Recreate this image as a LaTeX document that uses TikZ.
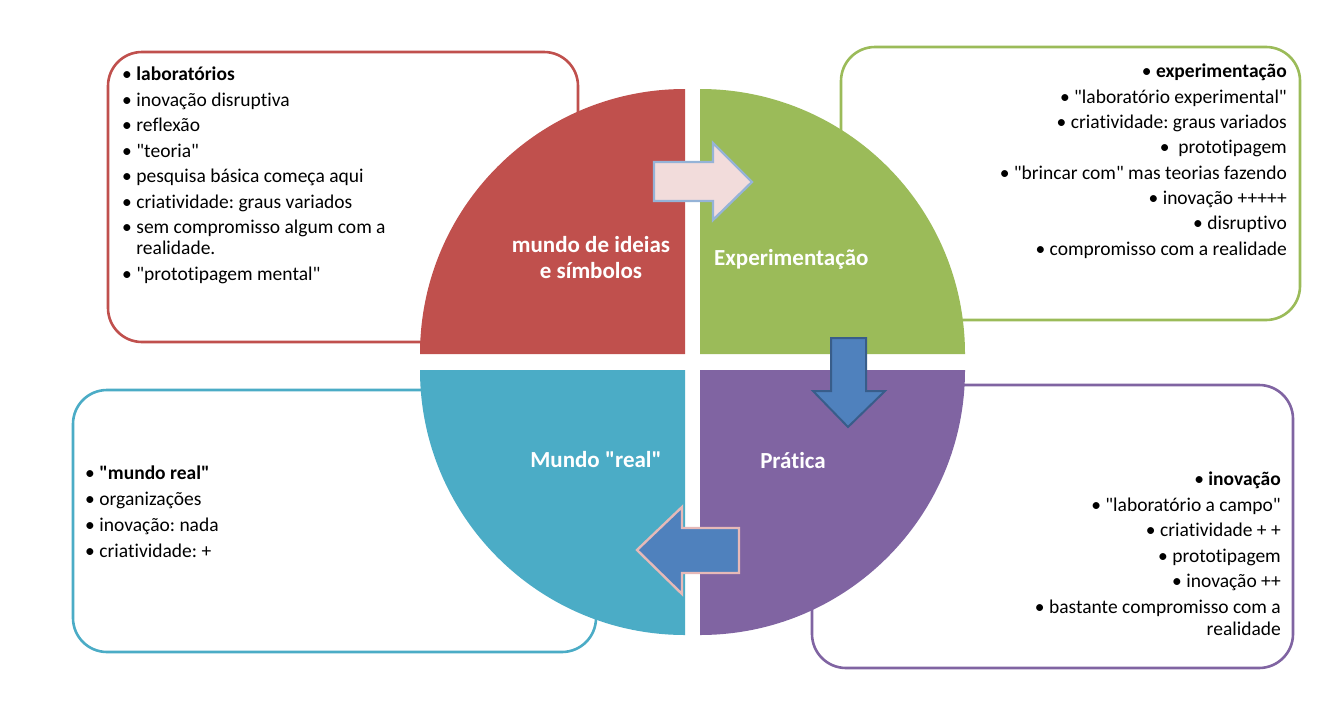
\documentclass[tikz,border=0pt]{standalone}
\usepackage{fontspec}
\setmainfont{Carlito}
\newfontfamily\calfont[Ligatures={NoCommon,NoContextual}]{Carlito}
\definecolor{qred}{HTML}{C0504D}
\definecolor{qgreen}{HTML}{9BBB59}
\definecolor{qblue}{HTML}{4BACC6}
\definecolor{qpurple}{HTML}{8064A2}
\definecolor{arrblue}{HTML}{4F81BD}
\definecolor{arrdark}{HTML}{385D8A}
\definecolor{arrpink}{HTML}{F2DCDB}
\definecolor{pinkline}{HTML}{E6B9B8}
\definecolor{lightblue}{HTML}{95B3D7}
\frenchspacing
\begin{document}
\begin{tikzpicture}[x=1pt,y=1pt,
  infobox/.style={rounded corners=34pt, line width=2.6pt, fill=white},
  txt/.style={inner sep=0pt, font=\calfont\fontsize{19.5}{21}\selectfont, text=black},
  qlabel/.style={inner sep=0pt, font=\calfont\fontsize{23}{26}\selectfont\bfseries, text=white, align=center},
  quad/.style={draw=none}]
\useasboundingbox (0,0) rectangle (1338,-707);
\fill[white] (0,0) rectangle (1338,-707);

% info boxes
\draw[infobox, draw=qred] (108,-52) rectangle (578,-342);
\draw[infobox, draw=qgreen] (841,-47) rectangle (1300,-320);
\draw[infobox, draw=qblue] (73,-390) rectangle (596,-652);
\draw[infobox, draw=qpurple] (812,-385) rectangle (1293,-668);

% quadrants
\fill[qred] (685,-354) -- (420,-354) arc[start angle=180, end angle=90, radius=265pt] -- cycle;
\fill[qgreen] (700,-354) -- (700,-89) arc[start angle=90, end angle=0, radius=265pt] -- cycle;
\fill[qblue] (685,-370) -- (420,-370) arc[start angle=180, end angle=270, radius=265pt] -- cycle;
\fill[qpurple] (700,-370) -- (965,-370) arc[start angle=0, end angle=-90, radius=265pt] -- cycle;

% arrows
\draw[line width=2.4pt, draw=lightblue, fill=arrpink, line join=miter]
  (654,-162) -- (713,-162) -- (713,-143) -- (752,-182) -- (713,-220) -- (713,-201) -- (654,-201) -- cycle;
\draw[line width=2pt, draw=arrdark, fill=arrblue, line join=miter]
  (831,-338) -- (866,-338) -- (866,-391) -- (885,-391) -- (848,-427) -- (813,-391) -- (831,-391) -- cycle;
\draw[line width=2.4pt, draw=pinkline, fill=arrblue, line join=miter]
  (739,-528) -- (682,-528) -- (682,-507) -- (637,-550) -- (682,-594) -- (682,-573) -- (739,-573) -- cycle;

% quadrant labels
\node[qlabel] (lred) at (591,-258) {mundo de ideias\\e símbolos};
\node[qlabel, anchor=west] (lgreen) at (714,-259) {Experimentação};
\node[qlabel] (lblue) at (596,-460) {Mundo "real"};
\node[qlabel] (lpurple) at (793,-461) {Prática};

% box texts
\node[txt, anchor=north west] (tred) at (122,-66) {%
\begin{tabular}{@{}l@{\hspace{4.5pt}}l@{}}
• & \textbf{laboratórios}\\[4.5pt]
• & inovação disruptiva\\[4.5pt]
• & reflexão\\[4.5pt]
• & "teoria"\\[4.5pt]
• & pesquisa básica começa aqui\\[4.5pt]
• & criatividade: graus variados\\[4.5pt]
• & sem compromisso algum com a\\
  & realidade.\\[4.5pt]
• & "prototipagem mental"
\end{tabular}};

\node[txt, anchor=north east] (tgreen) at (1287,-63) {%
\begin{tabular}{@{}r@{}}
• \textbf{experimentação}\\[4.3pt]
• "laboratório experimental"\\[4.3pt]
• criatividade: graus variados\\[4.3pt]
•\ \ prototipagem\\[4.3pt]
• "brincar com" mas teorias fazendo\\[4.3pt]
• inovação +++++\\[4.3pt]
• disruptivo\\[4.3pt]
• compromisso com a realidade
\end{tabular}};

\node[txt, anchor=north west] (tblue) at (85,-465) {%
\begin{tabular}{@{}l@{\hspace{4.5pt}}l@{}}
• & \textbf{"mundo real"}\\[5pt]
• & organizações\\[5pt]
• & inovação: nada\\[5pt]
• & criatividade: +
\end{tabular}};

\node[txt, anchor=north east] (tpurple) at (1281,-471) {%
\begin{tabular}{@{}r@{}}
• \textbf{inovação}\\[4.5pt]
• "laboratório a campo"\\[4.5pt]
• criatividade + +\\[4.5pt]
• prototipagem\\[4.5pt]
• inovação ++\\[4.5pt]
• bastante compromisso com a\\[1pt]
realidade
\end{tabular}};
\end{tikzpicture}
\end{document}
